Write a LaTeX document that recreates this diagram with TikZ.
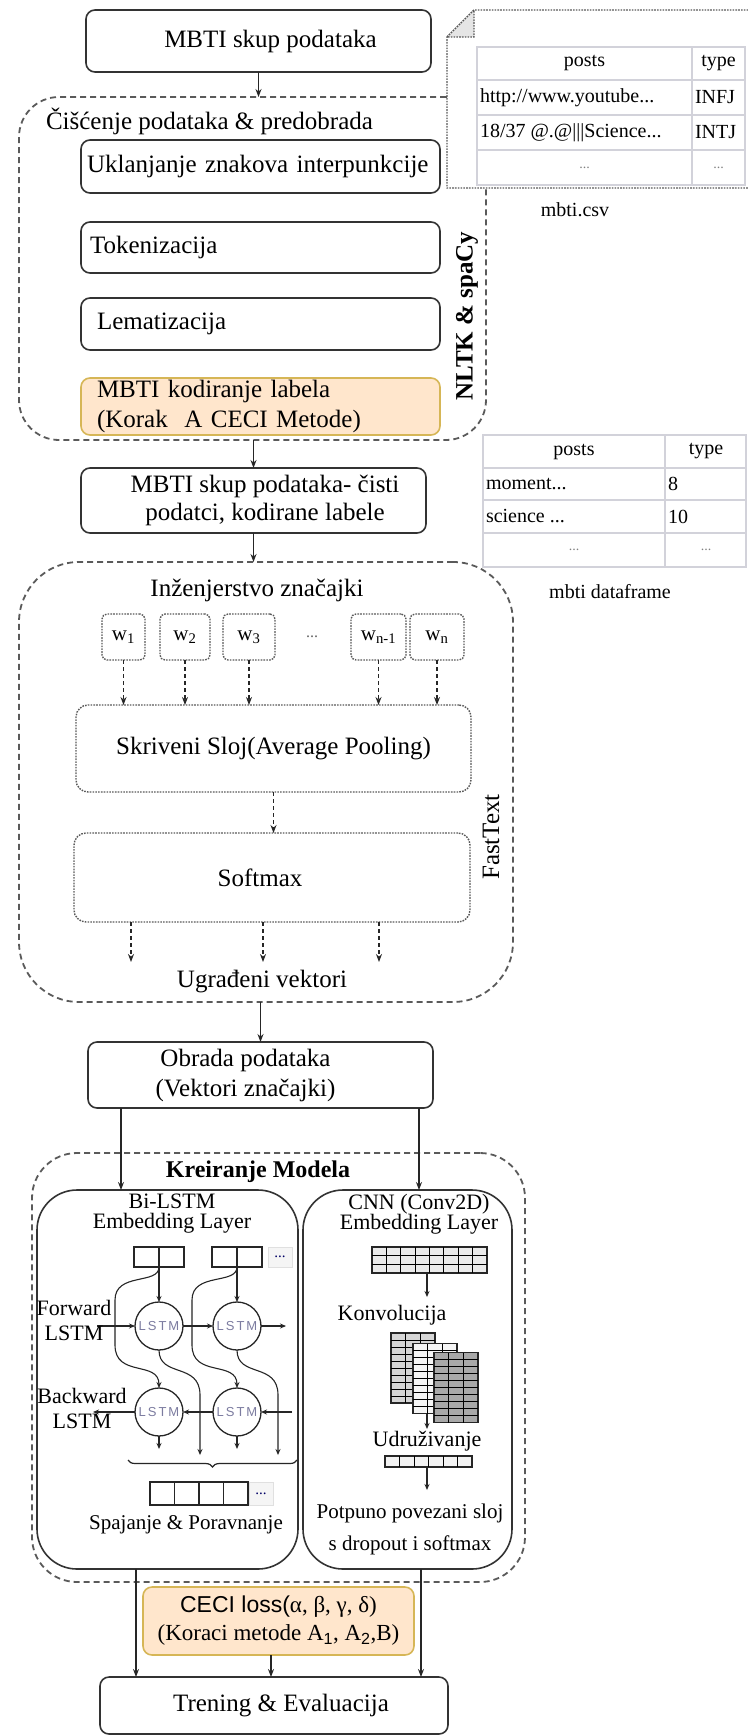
\documentclass[tikz,border=0pt]{standalone}
\usepackage{fontspec}
\setmainfont{Liberation Serif}
\setsansfont{Liberation Sans}
\usetikzlibrary{arrows.meta,decorations.pathreplacing,calc}
\definecolor{orfill}{HTML}{FFE6CC}
\definecolor{ordraw}{HTML}{D6B656}
\definecolor{tblc}{HTML}{D2D2DA}
\definecolor{contc}{HTML}{5A5A5A}
\definecolor{lstmt}{HTML}{7C7CA0}
\newcommand{\fsz}[2]{\fontsize{#1pt}{#2pt}\selectfont}
\begin{document}
\begin{tikzpicture}[x=1pt,y=-1pt,
 every node/.style={inner sep=0pt,outer sep=0pt,font=\fsz{25}{29}},
 box/.style={draw=black!80,line width=1.6pt,rounded corners=9pt,fill=white},
 lbox/.style={box,align=left},
 cont/.style={draw=contc,line width=1.8pt,dash pattern=on 6pt off 4pt},
 dotb/.style={draw=black!65,line width=1.4pt,dash pattern=on 1.6pt off 1.2pt},
 wbox/.style={dotb,rounded corners=5pt,minimum height=46pt,font=\fsz{21}{24}},
 arr/.style={draw=black!85,line width=1.3pt,-{Stealth[length=8pt,width=6pt]}},
 darr/.style={arr,dash pattern=on 4pt off 3pt},
 sarr/.style={draw=black!85,line width=1.1pt,-{Stealth[length=6pt,width=5pt]}},
 tbl/.style={draw=tblc,line width=1.6pt},
 ttxt/.style={font=\fsz{20}{24}},
 lstmc/.style={circle,draw=black!85,line width=1.3pt,minimum size=48pt,fill=white,font=\sffamily\fsz{13}{15}\addfontfeature{LetterSpace=15},text=lstmt},
 cell/.style={draw=black!85,line width=1.3pt},
 smalltxt/.style={font=\fsz{22}{25}}
]
\useasboundingbox (0,0) rectangle (747,1736);

% ---------- top ----------
\node[box,minimum width=345pt,minimum height=62pt] (mbti) at (258.5,41) {\hspace*{24pt}MBTI skup podataka};

% ---------- cleaning container ----------
\node[cont,minimum width=467pt,minimum height=343pt,rounded corners=40pt] (clean) at (252.5,268.5) {};
\draw[arr] (mbti.south) -- (clean.north -| mbti.south);
\node[anchor=west] (cleanlbl) at (46,121) {Čišćenje podataka \& predobrada};
\node[lbox,minimum height=53pt,text width=347pt,inner xsep=6pt] (ukl) at (260.5,166.5) {Uklanjanje znakova interpunkcije};
\node[lbox,minimum height=51pt,text width=341pt,inner xsep=9pt] (tok) at (260.5,247.5) {Tokenizacija};
\node[lbox,minimum height=52pt,text width=327pt,inner xsep=16pt] (lem) at (260.5,324) {Lematizacija};
\node[lbox,fill=orfill,draw=ordraw,minimum height=57pt,text width=327pt,inner xsep=16pt,font=\fsz{25}{30}] (kod) at (260.5,406.5) {MBTI kodiranje labela\\(Korak\ \ A CECI Metode)};
\node[rotate=90,font=\bfseries\fsz{25}{28}] (nltk) at (467,316) {NLTK \& spaCy};

% ---------- mbti.csv note ----------
\draw[dotb,fill=white] (447,37) -- (474,10) -- (752,10) -- (752,188) -- (447,188) -- cycle;
\draw[dotb,fill=black!10] (447,37) -- (474,10) -- (474,37) -- cycle;
\draw[tbl] (477,47) rectangle (745,185);
\draw[tbl] (477,80) -- (745,80) (477,115) -- (745,115) (477,150) -- (745,150) (692,47) -- (692,185);
\node[ttxt] (c1h) at (584.5,63.5) {posts};
\node[ttxt] (c2h) at (718.5,63.5) {type};
\node[ttxt,anchor=west] (c1a) at (480,97.5) {http://www.youtube...};
\node[ttxt,anchor=west] (c2a) at (695,97.5) {INFJ};
\node[ttxt,anchor=west] (c1b) at (480,132.5) {18/37 @.@|||Science...};
\node[ttxt,anchor=west] (c2b) at (695,132.5) {INTJ};
\node[ttxt,text=black!50,font=\fsz{14}{16}] (c1c) at (584.5,167.5) {...};
\node[ttxt,text=black!50,font=\fsz{14}{16}] (c2c) at (718.5,167.5) {...};
\node[ttxt] (csvlbl) at (575,210) {mbti.csv};

% ---------- cleaned dataset ----------
\node[box,minimum width=345pt,minimum height=65pt,align=center,font=\fsz{25}{28}] (mid) at (253.5,500.5) {\hspace*{23pt}MBTI skup podataka- čisti\\\hspace*{23pt}podatci, kodirane labele};
\draw[arr] (mid.north |- clean.south) -- (mid.north);

% ---------- dataframe table ----------
\draw[tbl] (483,435) rectangle (746,567);
\draw[tbl] (483,468) -- (746,468) (483,500) -- (746,500) (483,533) -- (746,533) (665,435) -- (665,567);
\node[ttxt] (d1h) at (574,451.5) {posts};
\node[ttxt] (d2h) at (706,451.5) {type};
\node[ttxt,anchor=west] (d1a) at (486,484) {moment...};
\node[ttxt,anchor=west] (d2a) at (668,484) {8};
\node[ttxt,anchor=west] (d1b) at (486,516.5) {science ...};
\node[ttxt,anchor=west] (d2b) at (668,516.5) {10};
\node[ttxt,text=black!50,font=\fsz{14}{16}] (d1c) at (574,550) {...};
\node[ttxt,text=black!50,font=\fsz{14}{16}] (d2c) at (706,550) {...};
\node[ttxt] (dflbl) at (610,592) {mbti dataframe};

% ---------- feature engineering ----------
\node[cont,minimum width=494pt,minimum height=440pt,rounded corners=60pt] (feat) at (266,782) {};
\draw[arr] (mid.south) -- (mid.south |- feat.north);
\node (inz) at (257,590) {Inženjerstvo značajki};
\node[wbox,minimum width=43pt] (w1) at (123.5,637) {w\textsubscript{1}};
\node[wbox,minimum width=50pt] (w2) at (185,637) {w\textsubscript{2}};
\node[wbox,minimum width=52pt] (w3) at (249,637) {w\textsubscript{3}};
\node[text=black!60,font=\fsz{16}{18}] (wdots) at (312,637) {...};
\node[wbox,minimum width=55pt] (wn1) at (378.5,637) {w\textsubscript{n-1}};
\node[wbox,minimum width=54pt] (wn) at (437,637) {w\textsubscript{n}};
\node[dotb,rounded corners=12pt,minimum width=395pt,minimum height=87pt] (skr) at (273.5,748.5) {Skriveni Sloj(Average Pooling)};
\foreach \w in {w1,w2,w3,wn1,wn}{\draw[darr] (\w.south) -- (\w.south |- skr.north);}
\node[dotb,rounded corners=12pt,minimum width=396pt,minimum height=89pt] (soft) at (272,877.5) {Softmax\hspace*{24pt}};
\draw[darr] (skr.south) -- (skr.south |- soft.north);
\coordinate (o1) at (131,962);
\coordinate (o2) at (263,962);
\coordinate (o3) at (379,962);
\foreach \o in {o1,o2,o3}{\draw[darr] (soft.south -| \o) -- (\o);}
\node (ugr) at (262,982) {Ugrađeni vektori};
\node[rotate=90] (ft) at (491,837) {FastText};

% ---------- data processing ----------
\node[box,minimum width=345pt,minimum height=66pt,align=center,font=\fsz{25}{30}] (obr) at (260.5,1075) {Obrada podataka\hspace*{30pt}\\(Vektori značajki)\hspace*{30pt}};
\draw[arr] (obr.north |- feat.south) -- (obr.north);

% ---------- model creation ----------
\node[cont,minimum width=493pt,minimum height=429pt,rounded corners=45pt] (model) at (278.5,1367.5) {};
\node[font=\bfseries\fsz{24}{28}] (modlbl) at (258,1172) {Kreiranje Modela};
\node[box,minimum width=261pt,minimum height=379pt,rounded corners=40pt] (lstm) at (167.5,1379.5) {};
\node[box,minimum width=209pt,minimum height=379pt,rounded corners=40pt] (cnn) at (407.5,1379.5) {};
\coordinate (xl) at (121,0);
\coordinate (xr) at (419,0);
\draw[arr] (obr.south -| xl) -- (lstm.north -| xl);
\draw[arr] (obr.south -| xr) -- (cnn.north -| xr);

% Bi-LSTM
\node[align=center,font=\fsz{22}{20}] (bititle) at (172,1214) {Bi-LSTM\\Embedding Layer};
\node[cell,minimum width=50pt,minimum height=20pt] (e1) at (159,1257) {};
\draw[cell] (e1.north) -- (e1.south);
\node[cell,minimum width=50pt,minimum height=20pt] (e2) at (237,1257) {};
\draw[cell] (e2.north) -- (e2.south);
\node[draw=black!12,fill=black!4,minimum width=24pt,minimum height=20pt,font=\fsz{15}{16},text=blue!40!black] (edots) at (280,1257) {...};
\node[lstmc] (f1) at (159,1326) {LSTM};
\node[lstmc] (f2) at (237,1326) {LSTM};
\node[lstmc] (b1) at (159,1412) {LSTM};
\node[lstmc] (b2) at (237,1412) {LSTM};
\draw[sarr] (e1.south) -- (f1.north);
\draw[sarr] (e2.south) -- (f2.north);
\draw[sarr] (e1.south) .. controls (159,1285) and (115,1272) .. (115,1300) -- (115,1345) .. controls (115,1378) and (159,1360) .. (b1.north);
\draw[sarr] (e2.south) .. controls (237,1285) and (192,1272) .. (192,1300) -- (192,1345) .. controls (192,1378) and (237,1360) .. (b2.north);
\coordinate (fo1) at (200,1455);
\coordinate (fo2) at (278,1455);
\draw[sarr] (f1.south) .. controls (159,1378) and (200,1362) .. (200,1395) -- (fo1);
\draw[sarr] (f2.south) .. controls (237,1378) and (278,1362) .. (278,1395) -- (fo2);
\coordinate (bo1) at (159,1449);
\coordinate (bo2) at (237,1449);
\draw[sarr] (b1.south) -- (bo1);
\draw[sarr] (b2.south) -- (bo2);
\coordinate (fin) at (97,1326);
\coordinate (fout) at (286,1326);
\draw[sarr] (fin) -- (f1.west);
\draw[sarr] (f1.east) -- (f2.west);
\draw[sarr] (f2.east) -- (fout);
\coordinate (bin) at (292,1412);
\coordinate (bout) at (93,1412);
\draw[sarr] (bin) -- (b2.east);
\draw[sarr] (b2.west) -- (b1.east);
\draw[sarr] (b1.west) -- (bout);
\node[align=center,font=\fsz{22}{25}] (fwdl) at (74,1320) {Forward\\LSTM};
\node[align=center,font=\fsz{22}{25}] (bwdl) at (82,1408) {Backward\\LSTM};
\coordinate (brl) at (128,1460);
\coordinate (brr) at (297,1460);
\draw[decorate,decoration={brace,mirror,amplitude=7pt},line width=1.2pt,black!85] (brl) -- (brr);
\node[cell,minimum width=98pt,minimum height=23pt] (outv) at (199,1493.5) {};
\foreach \i in {1,2,3}{\draw[cell] ($(outv.north west)+(24.5*\i,0)$) -- ($(outv.south west)+(24.5*\i,0)$);}
\node[draw=black!12,fill=black!4,minimum width=24pt,minimum height=23pt,font=\fsz{15}{16},text=blue!40!black] (outd) at (261,1493.5) {...};
\node[font=\fsz{21}{25}] (spaj) at (186,1525) {Spajanje \& Poravnanje};

% CNN
\node[align=center,font=\fsz{22}{20}] (cnntitle) at (419,1214) {CNN (Conv2D)\\Embedding Layer};
\node[cell,fill=black!8,minimum width=115pt,minimum height=26pt] (cgrid) at (429.5,1260) {};
\foreach \i in {1,...,7}{\draw[line width=1pt] ($(cgrid.north west)+(\i*14.375,0)$) -- ($(cgrid.south west)+(\i*14.375,0)$);}
\foreach \j in {1,2}{\draw[line width=1pt] ($(cgrid.north west)+(0,\j*8.667)$) -- ($(cgrid.north east)+(0,\j*8.667)$);}
\coordinate (ka) at (427,1297);
\draw[sarr] (cgrid.south -| ka) -- (ka);
\node[smalltxt] (konv) at (392,1315) {Konvolucija};
\foreach \nm/\cx/\cy/\fc in {m1/413/1368/16, m2/435/1378.5/4, m3/456/1387.5/34}{
  \node[draw=black!85,line width=1.2pt,fill=black!\fc,minimum width=44pt,minimum height=70pt] (\nm) at (\cx,\cy) {};
  \foreach \i in {1,2}{\draw[line width=0.9pt] ($(\nm.north west)+(\i*14.667,0)$) -- ($(\nm.south west)+(\i*14.667,0)$);}
  \foreach \j in {1,...,9}{\draw[line width=0.9pt] ($(\nm.north west)+(0,\j*7)$) -- ($(\nm.north east)+(0,\j*7)$);}
}
\coordinate (ua) at (427,1429);
\draw[sarr] (m2.south -| ua) -- (ua);
\node[smalltxt] (udr) at (427,1441) {Udruživanje};
\node[draw=black!85,line width=1.2pt,fill=black!5,minimum width=87pt,minimum height=11pt] (pool) at (428.5,1461.5) {};
\foreach \i in {1,...,5}{\draw[line width=1pt] ($(pool.north west)+(\i*14.5,0)$) -- ($(pool.south west)+(\i*14.5,0)$);}
\coordinate (pa) at (427,1490);
\draw[sarr] (pool.south -| pa) -- (pa);
\node[align=center,font=\fsz{21}{32}] (fcl) at (410,1529) {Potpuno povezani sloj\\s dropout i softmax};

% ---------- loss & training ----------
\node[box,fill=orfill,draw=ordraw,minimum width=271pt,minimum height=68pt,align=center,font=\fsz{23}{28}] (ceci) at (278.5,1621) {{\sffamily CECI loss(}α, β, γ, δ)\\(Koraci metode A{\sffamily\textsubscript{1}}, A{\sffamily\textsubscript{2}},B)};
\node[box,minimum width=348pt,minimum height=57pt] (tren) at (274,1705.5) {\hspace*{14pt}Trening \& Evaluacija};
\coordinate (xbl) at (136,0);
\coordinate (xbr) at (421,0);
\coordinate (xbc) at (271,0);
\draw[arr] (lstm.south -| xbl) -- (tren.north -| xbl);
\draw[arr] (cnn.south -| xbr) -- (tren.north -| xbr);
\draw[arr] (ceci.south -| xbc) -- (tren.north -| xbc);
\end{tikzpicture}
\end{document}
